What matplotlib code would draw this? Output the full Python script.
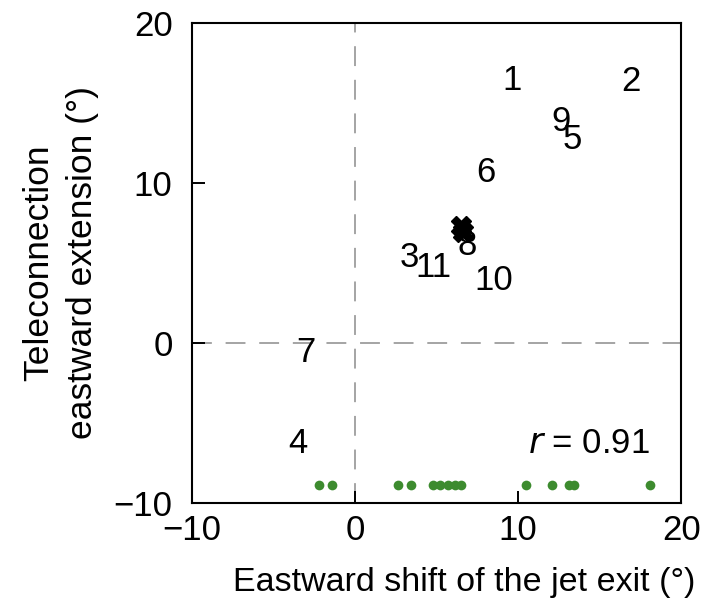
import numpy as np
import matplotlib
matplotlib.use("Agg")
import matplotlib.pyplot as plt

plt.rcParams['font.family'] = ['Liberation Sans', 'DejaVu Sans']

# ------------------------------ DATA -----------------------------------------
# Model labels and their positions (jet exit shift, teleconnection extension)
model_labels = ['1', '2', '3', '4', '5', '6', '7', '8', '9', '10', '11']
jet_shift = [9.6, 16.9, 3.3, -3.5, 13.3, 8.0, -3.0, 6.9, 12.6, 8.5, 4.8]
tele_ext = [16.4, 16.3, 5.3, -6.3, 12.7, 10.6, -0.6, 6.1, 13.8, 3.9, 4.7]

# Mean markers (two overlapping crosses)
mean_shift = [6.5, 6.6]
mean_ext = [7.3, 6.9]

# Green dots along the bottom (jet exit shift only)
dot_shift = [-2.2, -1.4, 2.6, 3.4, 4.8, 5.2, 5.7, 6.1, 6.5, 10.5, 12.1, 13.1, 13.4, 18.1]
dot_level = -8.9

r_text = '$r$ = 0.91'

# ------------------------------ PLOTTING -------------------------------------
fig = plt.figure(figsize=(7.06, 6.10), dpi=100)
ax = fig.add_axes([0.272, 0.176, 0.693, 0.787])

ax.axhline(0, color='#8c8c8c', lw=1.1, dashes=(13, 9), zorder=1)
ax.axvline(0, color='#8c8c8c', lw=1.1, dashes=(13, 9), zorder=1)

for lab, x, y in zip(model_labels, jet_shift, tele_ext):
    ax.text(x, y, lab, ha='center', va='center', fontsize=25, color='black')

ax.plot(mean_shift, mean_ext, marker='X', ms=14, color='black', mec='black', ls='none')

ax.plot(dot_shift, [dot_level]*len(dot_shift), 'o', color='#3d8b2f', ms=7, mec='none')

ax.text(18.1, -6.3, r_text, ha='right', va='center', fontsize=25)

ax.set_xlim(-10, 20)
ax.set_ylim(-10, 20)
ax.set_xticks([-10, 0, 10, 20])
ax.set_yticks([-10, 0, 10, 20])
ax.tick_params(direction='in', length=9, width=1.4, labelsize=25)
ax.tick_params(axis='x', pad=8)
ax.tick_params(axis='y', pad=14)
for s in ax.spines.values():
    s.set_linewidth(1.5)

ax.set_xlabel('Eastward shift of the jet exit (°)', fontsize=24.5, va='top')
ax.xaxis.set_label_coords(0.556, -0.135)
ax.set_ylabel('Teleconnection\neastward extension (°)', fontsize=25.5, linespacing=1.4)
ax.yaxis.set_label_coords(-0.19, 0.5)

fig.savefig('out.png', dpi=100)
